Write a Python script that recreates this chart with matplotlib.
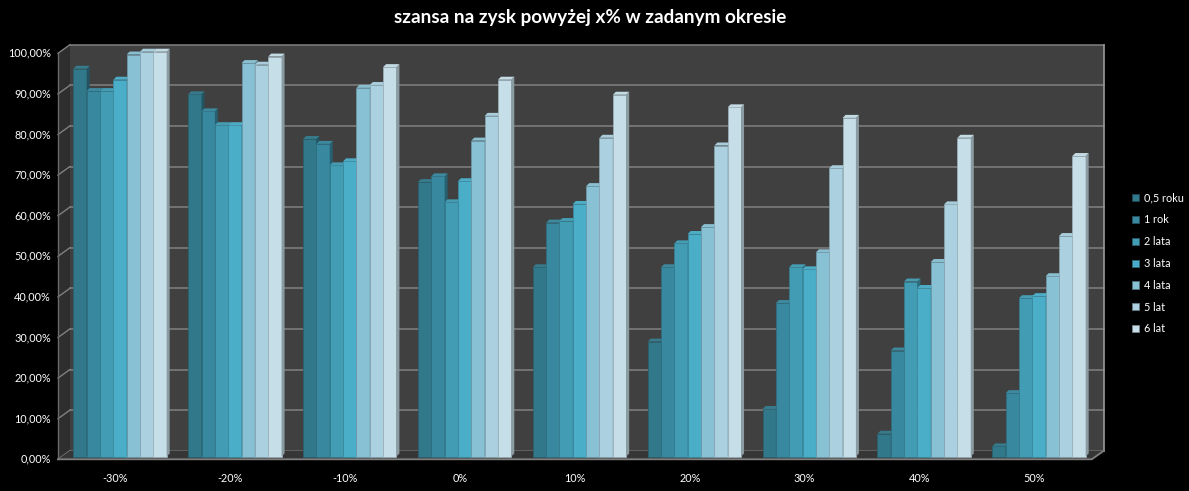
import numpy as np
import matplotlib
matplotlib.use("Agg")
import matplotlib.pyplot as plt
from matplotlib.patches import Polygon, Rectangle, Patch
from matplotlib.collections import PolyCollection
import matplotlib.colors as mcolors

# data
categories = ["-30%", "-20%", "-10%", "0%", "10%", "20%", "30%", "40%", "50%"]
series_names = ["0,5 roku", "1 rok", "2 lata", "3 lata", "4 lata", "5 lat", "6 lat"]
s_05 = [0.955, 0.892, 0.782, 0.676, 0.466, 0.283, 0.117, 0.056, 0.025]
s_1 = [0.900, 0.850, 0.770, 0.690, 0.576, 0.466, 0.378, 0.261, 0.156]
s_2 = [0.900, 0.816, 0.717, 0.626, 0.580, 0.525, 0.466, 0.431, 0.390]
s_3 = [0.928, 0.816, 0.727, 0.678, 0.622, 0.548, 0.461, 0.415, 0.395]
s_4 = [0.990, 0.969, 0.908, 0.778, 0.666, 0.565, 0.503, 0.479, 0.444]
s_5 = [0.997, 0.965, 0.915, 0.839, 0.785, 0.766, 0.710, 0.621, 0.543]
s_6 = [0.997, 0.985, 0.959, 0.928, 0.891, 0.860, 0.834, 0.785, 0.740]
values = [s_05, s_1, s_2, s_3, s_4, s_5, s_6]
colors = ["#31788a", "#3889a0", "#419cb4", "#4aaec8", "#88c1d4", "#abd0e0", "#c6dee8"]
yticks = np.arange(0, 1.001, 0.1)

W, H = 1189, 491
PX = 114.875   # pixels per category
PY = 406.0     # pixels per 1.0
x0_px, y0_px = 62.56, 456.5   # data (-0.5, 0) in pixels

fig = plt.figure(figsize=(W / 100, H / 100), dpi=100, facecolor="black")
xlim = (-0.62, 8.62)
ylim = (-0.03, 1.03)
left = (x0_px + (xlim[0] + 0.5) * PX) / W
bottom = (H - (y0_px - ylim[0] * PY)) / H
ax = fig.add_axes([left, bottom, (xlim[1] - xlim[0]) * PX / W, (ylim[1] - ylim[0]) * PY / H])
ax.set_xlim(xlim)
ax.set_ylim(ylim)
ax.axis("off")

# depth offsets (front plane / back plane) relative to bar faces
fx, fy = -4.6 / PX, -2.8 / PY
bx, by = 7.4 / PX, 5.8 / PY
ddx, ddy = 3.0 / PX, 3.0 / PY
xl, xr = -0.5, len(categories) - 0.5
grid_c = "#808080"

# walls and floor
ax.add_patch(Rectangle((xl + bx, by), xr - xl, 1.0, facecolor="#404040", edgecolor="none", zorder=0))
ax.add_patch(Polygon([(xl + fx, fy), (xl + fx, 1 + fy), (xl + bx, 1 + by), (xl + bx, by)],
                     closed=True, facecolor="#2e2e2e", edgecolor="none", zorder=0.5))
for v in yticks:
    ax.plot([xl + bx, xr + bx], [v + by, v + by], color=grid_c, lw=1.1, zorder=1)
    ax.plot([xl + fx, xl + bx], [v + fy, v + by], color=grid_c, lw=1.0, zorder=1)
ax.plot([xr + bx, xr + bx], [by, 1 + by], color="#9a9a9a", lw=1.2, zorder=1)
ax.plot([xl + fx, xl + fx], [fy, 1 + fy], color="#6a6a6a", lw=1.0, zorder=1)
ax.add_patch(Polygon([(xl + fx, fy), (xr + fx, fy), (xr + bx, by), (xl + bx, by)],
                     closed=True, facecolor="#363636", edgecolor="none", zorder=1.5))
ax.plot([xl + fx, xr + fx, xr + bx], [fy, fy, by], color=grid_c, lw=1.3, zorder=1.6)

# bars with a small 3d look
n = len(values)
group_w = 0.8125
bw = group_w / n
xg = np.arange(len(categories))
for i, (vals, c) in enumerate(zip(values, colors)):
    rgb = np.array(mcolors.to_rgb(c))
    side_c = rgb * 0.7
    top_c = np.minimum(rgb * 0.95 + 0.03, 1)
    xs = xg - group_w / 2 + (i + 0.5) * bw
    ax.bar(xs, vals, width=bw, color=c, edgecolor=rgb * 0.8, linewidth=0.5, zorder=3 + i)
    sides, tops = [], []
    for x, v in zip(xs, vals):
        r = x + bw / 2
        l = x - bw / 2
        sides.append([(r, 0), (r, v), (r + ddx, v + ddy), (r + ddx, ddy)])
        tops.append([(l, v), (r, v), (r + ddx, v + ddy), (l + ddx, v + ddy)])
    ax.add_collection(PolyCollection(sides, facecolor=side_c, edgecolor="none", zorder=3 + i))
    ax.add_collection(PolyCollection(tops, facecolor=top_c, edgecolor="none", zorder=3 + i))

# axis labels
for v in yticks:
    lab = f"{v * 100:.2f}%".replace(".", ",")
    ax.text(xl + (51 - x0_px) / PX, v + fy, lab, ha="right", va="center",
            color="white", fontsize=7.8, family="Lato")
for x, lab in zip(xg, categories):
    ax.text(x + fx, (y0_px - 478) / PY, lab, ha="center", va="center",
            color="white", fontsize=7.8, family="Lato")

fig.text(590 / W, 1 - 17 / H, "szansa na zysk powyżej x% w zadanym okresie",
         ha="center", va="center", color="white", fontsize=13.6, fontweight="bold", family="Lato")

handles = [Patch(facecolor=c, edgecolor=np.array(mcolors.to_rgb(c)) * 0.6, linewidth=0.6) for c in colors]
leg = fig.legend(handles, series_names, loc="center left", bbox_to_anchor=(1132 / W, 1 - 263.5 / H),
                 frameon=False, handlelength=0.65, handleheight=0.65,
                 handletextpad=0.45, labelspacing=1.0, borderpad=0, borderaxespad=0,
                 prop={"family": "Lato", "size": 7.8})
for t in leg.get_texts():
    t.set_color("white")

fig.savefig("out.png", dpi=100, facecolor="black")
